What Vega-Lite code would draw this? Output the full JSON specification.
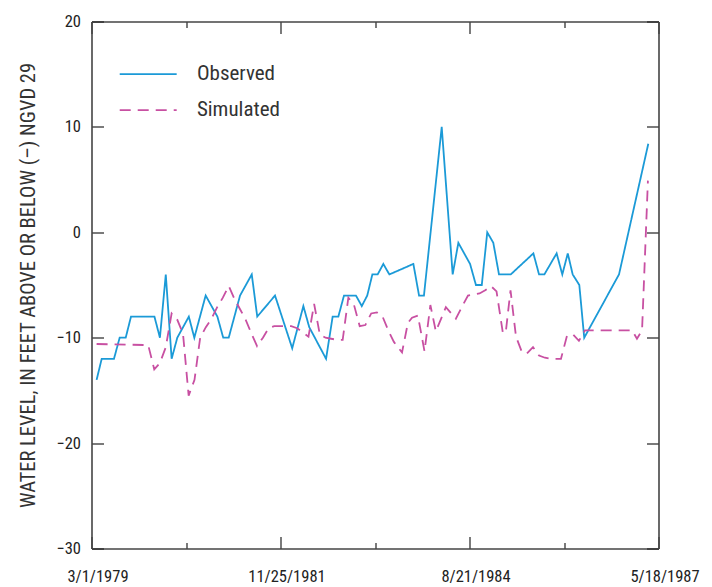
{
  "$schema": "https://vega.github.io/schema/vega-lite/v6.json",
  "width": 567,
  "height": 527,
  "autosize": {"type": "none"},
  "padding": {"left": 91.5, "top": 21.5, "right": 53.5, "bottom": 38.5},
  "background": "white",
  "config": {
    "view": {"stroke": null},
    "font": "Roboto Condensed, Roboto, Liberation Sans, sans-serif",
    "axis": {
      "grid": false,
      "domainColor": "#444444",
      "domainWidth": 1.6,
      "tickColor": "#222222",
      "tickWidth": 1.2,
      "labelFontSize": 16.5,
      "labelColor": "#222222",
      "titleFontSize": 20.5,
      "titleFontWeight": "normal",
      "titleColor": "#333333"
    }
  },
  "data": {
    "values": [
      {"date": "1979-03-28", "level": -14, "series": "Observed"},
      {"date": "1979-04-24", "level": -12, "series": "Observed"},
      {"date": "1979-06-28", "level": -12, "series": "Observed"},
      {"date": "1979-07-28", "level": -10, "series": "Observed"},
      {"date": "1979-08-29", "level": -10, "series": "Observed"},
      {"date": "1979-09-26", "level": -8, "series": "Observed"},
      {"date": "1980-01-28", "level": -8, "series": "Observed"},
      {"date": "1980-02-26", "level": -10, "series": "Observed"},
      {"date": "1980-03-28", "level": -4, "series": "Observed"},
      {"date": "1980-04-28", "level": -12, "series": "Observed"},
      {"date": "1980-05-28", "level": -10, "series": "Observed"},
      {"date": "1980-07-28", "level": -8, "series": "Observed"},
      {"date": "1980-08-26", "level": -10, "series": "Observed"},
      {"date": "1980-10-25", "level": -6, "series": "Observed"},
      {"date": "1980-12-26", "level": -8, "series": "Observed"},
      {"date": "1981-01-26", "level": -10, "series": "Observed"},
      {"date": "1981-02-24", "level": -10, "series": "Observed"},
      {"date": "1981-04-25", "level": -6, "series": "Observed"},
      {"date": "1981-06-26", "level": -4, "series": "Observed"},
      {"date": "1981-07-25", "level": -8, "series": "Observed"},
      {"date": "1981-10-27", "level": -6, "series": "Observed"},
      {"date": "1982-01-26", "level": -11, "series": "Observed"},
      {"date": "1982-03-26", "level": -7, "series": "Observed"},
      {"date": "1982-04-26", "level": -9, "series": "Observed"},
      {"date": "1982-07-24", "level": -12, "series": "Observed"},
      {"date": "1982-08-28", "level": -8, "series": "Observed"},
      {"date": "1982-09-27", "level": -8, "series": "Observed"},
      {"date": "1982-10-27", "level": -6, "series": "Observed"},
      {"date": "1982-12-29", "level": -6, "series": "Observed"},
      {"date": "1983-01-29", "level": -7, "series": "Observed"},
      {"date": "1983-02-27", "level": -6, "series": "Observed"},
      {"date": "1983-03-26", "level": -4, "series": "Observed"},
      {"date": "1983-04-23", "level": -4, "series": "Observed"},
      {"date": "1983-05-23", "level": -3, "series": "Observed"},
      {"date": "1983-06-24", "level": -4, "series": "Observed"},
      {"date": "1983-10-29", "level": -3, "series": "Observed"},
      {"date": "1983-11-28", "level": -6, "series": "Observed"},
      {"date": "1983-12-24", "level": -6, "series": "Observed"},
      {"date": "1984-03-27", "level": 10, "series": "Observed"},
      {"date": "1984-05-24", "level": -4, "series": "Observed"},
      {"date": "1984-06-23", "level": -1, "series": "Observed"},
      {"date": "1984-08-24", "level": -3, "series": "Observed"},
      {"date": "1984-09-24", "level": -5, "series": "Observed"},
      {"date": "1984-10-25", "level": -5, "series": "Observed"},
      {"date": "1984-11-23", "level": 0, "series": "Observed"},
      {"date": "1984-12-25", "level": -1, "series": "Observed"},
      {"date": "1985-01-24", "level": -4, "series": "Observed"},
      {"date": "1985-03-27", "level": -4, "series": "Observed"},
      {"date": "1985-07-25", "level": -2, "series": "Observed"},
      {"date": "1985-08-24", "level": -4, "series": "Observed"},
      {"date": "1985-09-21", "level": -4, "series": "Observed"},
      {"date": "1985-11-25", "level": -2, "series": "Observed"},
      {"date": "1985-12-25", "level": -4, "series": "Observed"},
      {"date": "1986-01-23", "level": -2, "series": "Observed"},
      {"date": "1986-02-18", "level": -4, "series": "Observed"},
      {"date": "1986-03-25", "level": -5, "series": "Observed"},
      {"date": "1986-04-20", "level": -10, "series": "Observed"},
      {"date": "1986-10-21", "level": -4, "series": "Observed"},
      {"date": "1987-03-25", "level": 8.4, "series": "Observed"},
      {"date": "1979-03-28", "level": -10.6, "series": "Simulated"},
      {"date": "1979-12-26", "level": -10.7, "series": "Simulated"},
      {"date": "1980-01-27", "level": -13.0, "series": "Simulated"},
      {"date": "1980-02-26", "level": -12.4, "series": "Simulated"},
      {"date": "1980-03-28", "level": -10.9, "series": "Simulated"},
      {"date": "1980-04-28", "level": -7.7, "series": "Simulated"},
      {"date": "1980-05-28", "level": -8.3, "series": "Simulated"},
      {"date": "1980-06-27", "level": -9.6, "series": "Simulated"},
      {"date": "1980-07-27", "level": -15.5, "series": "Simulated"},
      {"date": "1980-08-27", "level": -14.0, "series": "Simulated"},
      {"date": "1980-09-26", "level": -10.0, "series": "Simulated"},
      {"date": "1980-10-26", "level": -9.0, "series": "Simulated"},
      {"date": "1980-11-25", "level": -8.2, "series": "Simulated"},
      {"date": "1980-12-25", "level": -7.1, "series": "Simulated"},
      {"date": "1981-01-24", "level": -6.2, "series": "Simulated"},
      {"date": "1981-02-24", "level": -5.1, "series": "Simulated"},
      {"date": "1981-03-26", "level": -6.3, "series": "Simulated"},
      {"date": "1981-04-25", "level": -7.3, "series": "Simulated"},
      {"date": "1981-05-25", "level": -8.3, "series": "Simulated"},
      {"date": "1981-06-24", "level": -9.6, "series": "Simulated"},
      {"date": "1981-07-24", "level": -10.8, "series": "Simulated"},
      {"date": "1981-08-24", "level": -10.0, "series": "Simulated"},
      {"date": "1981-09-23", "level": -9.1, "series": "Simulated"},
      {"date": "1981-10-23", "level": -8.9, "series": "Simulated"},
      {"date": "1981-12-22", "level": -8.9, "series": "Simulated"},
      {"date": "1982-01-21", "level": -8.9, "series": "Simulated"},
      {"date": "1982-02-21", "level": -9.1, "series": "Simulated"},
      {"date": "1982-03-23", "level": -9.5, "series": "Simulated"},
      {"date": "1982-04-22", "level": -9.9, "series": "Simulated"},
      {"date": "1982-05-22", "level": -6.8, "series": "Simulated"},
      {"date": "1982-06-21", "level": -9.7, "series": "Simulated"},
      {"date": "1982-07-21", "level": -10.0, "series": "Simulated"},
      {"date": "1982-08-20", "level": -10.1, "series": "Simulated"},
      {"date": "1982-09-20", "level": -10.2, "series": "Simulated"},
      {"date": "1982-10-20", "level": -10.2, "series": "Simulated"},
      {"date": "1982-11-19", "level": -6.2, "series": "Simulated"},
      {"date": "1982-12-19", "level": -6.9, "series": "Simulated"},
      {"date": "1983-01-18", "level": -8.9, "series": "Simulated"},
      {"date": "1983-02-17", "level": -8.8, "series": "Simulated"},
      {"date": "1983-03-20", "level": -7.7, "series": "Simulated"},
      {"date": "1983-04-19", "level": -7.6, "series": "Simulated"},
      {"date": "1983-05-19", "level": -8.0, "series": "Simulated"},
      {"date": "1983-06-18", "level": -9.3, "series": "Simulated"},
      {"date": "1983-07-18", "level": -10.4, "series": "Simulated"},
      {"date": "1983-08-30", "level": -11.4, "series": "Simulated"},
      {"date": "1983-09-30", "level": -8.6, "series": "Simulated"},
      {"date": "1983-10-22", "level": -8.1, "series": "Simulated"},
      {"date": "1983-11-22", "level": -7.9, "series": "Simulated"},
      {"date": "1983-12-27", "level": -11.3, "series": "Simulated"},
      {"date": "1984-01-27", "level": -6.9, "series": "Simulated"},
      {"date": "1984-02-25", "level": -9.4, "series": "Simulated"},
      {"date": "1984-04-18", "level": -7.1, "series": "Simulated"},
      {"date": "1984-06-10", "level": -8.2, "series": "Simulated"},
      {"date": "1984-07-14", "level": -7.0, "series": "Simulated"},
      {"date": "1984-08-13", "level": -6.0, "series": "Simulated"},
      {"date": "1984-09-12", "level": -5.9, "series": "Simulated"},
      {"date": "1984-10-13", "level": -5.8, "series": "Simulated"},
      {"date": "1984-11-12", "level": -5.5, "series": "Simulated"},
      {"date": "1984-12-12", "level": -5.1, "series": "Simulated"},
      {"date": "1985-01-11", "level": -5.6, "series": "Simulated"},
      {"date": "1985-02-14", "level": -9.6, "series": "Simulated"},
      {"date": "1985-03-02", "level": -9.3, "series": "Simulated"},
      {"date": "1985-03-26", "level": -5.5, "series": "Simulated"},
      {"date": "1985-04-24", "level": -9.9, "series": "Simulated"},
      {"date": "1985-05-26", "level": -11.4, "series": "Simulated"},
      {"date": "1985-06-21", "level": -11.5, "series": "Simulated"},
      {"date": "1985-07-23", "level": -10.9, "series": "Simulated"},
      {"date": "1985-08-24", "level": -11.7, "series": "Simulated"},
      {"date": "1985-09-24", "level": -11.9, "series": "Simulated"},
      {"date": "1985-10-26", "level": -12.0, "series": "Simulated"},
      {"date": "1985-11-22", "level": -12.0, "series": "Simulated"},
      {"date": "1985-12-18", "level": -12.0, "series": "Simulated"},
      {"date": "1986-01-19", "level": -9.8, "series": "Simulated"},
      {"date": "1986-02-20", "level": -9.7, "series": "Simulated"},
      {"date": "1986-03-23", "level": -10.3, "series": "Simulated"},
      {"date": "1986-04-24", "level": -9.3, "series": "Simulated"},
      {"date": "1986-06-05", "level": -9.3, "series": "Simulated"},
      {"date": "1986-12-29", "level": -9.3, "series": "Simulated"},
      {"date": "1987-01-24", "level": -10.1, "series": "Simulated"},
      {"date": "1987-02-20", "level": -9.3, "series": "Simulated"},
      {"date": "1987-03-23", "level": 4.9, "series": "Simulated"}
    ]
  },
  "layer": [
    {
      "mark": {"type": "line", "strokeWidth": 1.8},
      "encoding": {
        "x": {
          "field": "date",
          "type": "temporal",
          "scale": {"domain": [{"year": 1979, "month": 3, "date": 1}, {"year": 1987, "month": 5, "date": 18}]},
          "axis": {
            "orient": "bottom",
            "title": null,
            "values": [
              {"year": 1979, "month": 3, "date": 1},
              {"year": 1980, "month": 7, "date": 13},
              {"year": 1981, "month": 11, "date": 25},
              {"year": 1983, "month": 4, "date": 9},
              {"year": 1984, "month": 8, "date": 21},
              {"year": 1986, "month": 1, "date": 3},
              {"year": 1987, "month": 5, "date": 18}
            ],
            "format": "%-m/%-d/%Y",
            "labelExpr": "indexof(['3/1/1979','11/25/1981','8/21/1984','5/18/1987'], datum.label) >= 0 ? datum.label : ''",
            "labelFlush": false,
            "labelOverlap": false,
            "labelPadding": 32,
            "labelOffset": 6,
            "tickSize": {"condition": {"test": "indexof(['3/1/1979','11/25/1981','8/21/1984','5/18/1987'], timeFormat(datum.value, '%-m/%-d/%Y')) >= 0", "value": -12}, "value": -6}
          }
        },
        "y": {
          "field": "level",
          "type": "quantitative",
          "scale": {"domain": [-30, 20]},
          "axis": {
            "orient": "left",
            "title": "WATER LEVEL, IN FEET ABOVE OR BELOW (–) NGVD 29",
            "values": [-30, -20, -10, 0, 10, 20],
            "tickSize": -12,
            "labelPadding": 23,
            "titlePadding": 17
          }
        },
        "color": {
          "field": "series",
          "type": "nominal",
          "scale": {"domain": ["Observed", "Simulated"], "range": ["#1b9ad7", "#c850a2"]},
          "legend": {
            "title": null,
            "orient": "none",
            "legendX": 37.7,
            "legendY": 33.7,
            "symbolType": "M-1.6,0H1.6",
            "symbolSize": 1268,
            "symbolStrokeWidth": 1.8,
            "symbolFillColor": "transparent",
            "labelFontSize": 21,
            "labelColor": "#333333",
            "labelOffset": 29.7,
            "rowPadding": 7
          }
        },
        "strokeDash": {
          "field": "series",
          "type": "nominal",
          "scale": {"domain": ["Observed", "Simulated"], "range": [[1, 0], [11, 7]]},
          "legend": {
            "title": null,
            "orient": "none",
            "legendX": 37.7,
            "legendY": 33.7,
            "symbolType": "M-1.6,0H1.6",
            "symbolSize": 1268,
            "symbolStrokeWidth": 1.8,
            "symbolFillColor": "transparent",
            "labelFontSize": 21,
            "labelColor": "#333333",
            "labelOffset": 29.7,
            "rowPadding": 7
          }
        }
      }
    },
    {
      "mark": {"type": "line", "opacity": 0},
      "encoding": {
        "detail": {"field": "series", "type": "nominal"},
        "x": {
          "field": "date",
          "type": "temporal",
          "axis": {
            "orient": "top",
            "title": null,
            "labels": false,
            "values": [
              {"year": 1979, "month": 3, "date": 1},
              {"year": 1980, "month": 7, "date": 13},
              {"year": 1981, "month": 11, "date": 25},
              {"year": 1983, "month": 4, "date": 9},
              {"year": 1984, "month": 8, "date": 21},
              {"year": 1986, "month": 1, "date": 3},
              {"year": 1987, "month": 5, "date": 18}
            ],
            "tickSize": {"condition": {"test": "indexof(['3/1/1979','11/25/1981','8/21/1984','5/18/1987'], timeFormat(datum.value, '%-m/%-d/%Y')) >= 0", "value": -12}, "value": -6}
          }
        },
        "y": {
          "field": "level",
          "type": "quantitative",
          "axis": {
            "orient": "right",
            "title": null,
            "labels": false,
            "values": [-30, -20, -10, 0, 10, 20],
            "tickSize": -12
          }
        }
      }
    }
  ],
  "resolve": {"axis": {"x": "independent", "y": "independent"}}
}
